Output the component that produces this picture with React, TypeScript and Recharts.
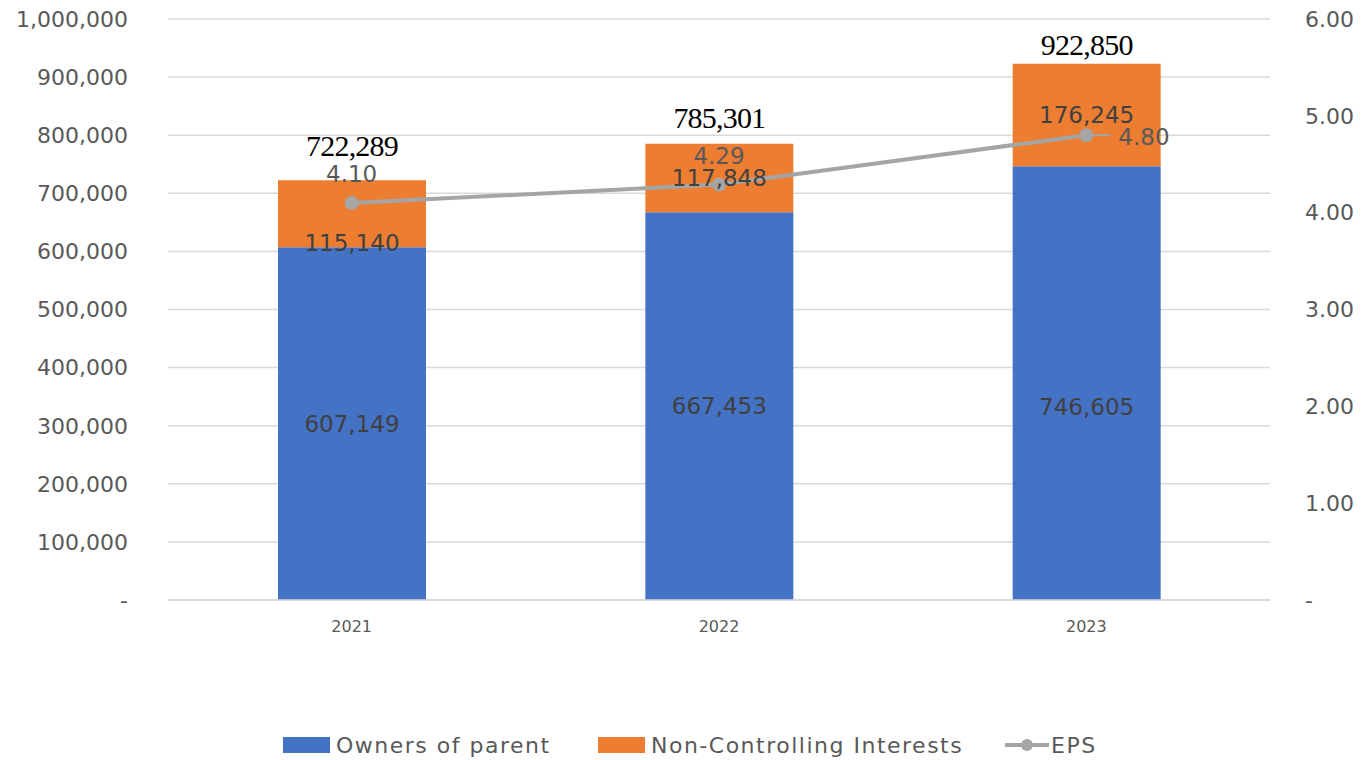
import React from "react";
import {
  Bar,
  CartesianGrid,
  ComposedChart,
  LabelList,
  Line,
  XAxis,
  YAxis,
} from "recharts";

const years = ["2021", "2022", "2023"];
const ownersOfParent = [607149, 667453, 746605];
const nonControlling = [115140, 117848, 176245];
const totals = [722289, 785301, 922850];
const eps = [4.1, 4.29, 4.8];

const leftTicks = [0, 100000, 200000, 300000, 400000, 500000, 600000, 700000, 800000, 900000, 1000000];
const rightTicks = [0, 1, 2, 3, 4, 5, 6];

const BLUE = "#4472C4";
const ORANGE = "#ED7D31";
const GRAY = "#A5A5A5";
const TEXT = "#595959";
const LABEL = "#404040";
const FONT = "'DejaVu Sans', sans-serif";

const data = years.map((year, i) => ({
  year,
  owners: ownersOfParent[i],
  nci: nonControlling[i],
  total: totals[i],
  eps: eps[i],
}));

const fmt = (v: number) => v.toLocaleString("en-US");

function OwnersLabel(props: any) {
  const { x, y, width, height, value, index } = props;
  // last label was dragged down in the original, level with the middle one
  const cy = index === 2 ? y + height / 2 + 24 : y + height / 2;
  return (
    <text
      x={x + width / 2}
      y={cy}
      textAnchor="middle"
      dominantBaseline="central"
      fill={LABEL}
      fontSize={23}
      fontFamily={FONT}
    >
      {fmt(value)}
    </text>
  );
}

function NciLabel(props: any) {
  const { x, y, width, height, value, index } = props;
  // first label sits low so it clears the EPS label
  const cy = index === 0 ? y + height - 4 : y + height / 2;
  return (
    <text
      x={x + width / 2}
      y={cy}
      textAnchor="middle"
      dominantBaseline="central"
      fill={LABEL}
      fontSize={23}
      fontFamily={FONT}
    >
      {fmt(value)}
    </text>
  );
}

function TotalLabel(props: any) {
  const { x, y, width, value, index } = props;
  const gap = index === 0 ? 35 : index === 1 ? 26 : 19;
  return (
    <text
      x={x + width / 2}
      y={y - gap}
      textAnchor="middle"
      dominantBaseline="central"
      fill="#000"
      fontSize={30}
      fontFamily="'Liberation Serif', serif"
      letterSpacing={-0.8}
    >
      {fmt(value)}
    </text>
  );
}

function EpsLabel(props: any) {
  const { x, y, value, index } = props;
  const txt = Number(value).toFixed(2);
  if (index === eps.length - 1) {
    return (
      <g>
        <line x1={x} y1={y} x2={x + 24} y2={y} stroke={GRAY} strokeWidth={2} />
        <text
          x={x + 32}
          y={y + 2}
          textAnchor="start"
          dominantBaseline="central"
          fill={TEXT}
          fontSize={23}
          fontFamily={FONT}
        >
          {txt}
        </text>
      </g>
    );
  }
  return (
    <text
      x={x}
      y={y - 29}
      textAnchor="middle"
      dominantBaseline="central"
      fill={TEXT}
      fontSize={23}
      fontFamily={FONT}
    >
      {txt}
    </text>
  );
}

function LegendItem({ kind, color, label, left }: { kind: "rect" | "line"; color: string; label: string; left: number }) {
  return (
    <div style={{ position: "absolute", left, top: 0, display: "flex", alignItems: "center", height: 28 }}>
      {kind === "rect" ? (
        <div style={{ width: 47, height: 16, background: color, marginRight: 6 }} />
      ) : (
        <svg width={44} height={16} style={{ marginRight: 2 }}>
          <line x1={0} y1={8} x2={44} y2={8} stroke={color} strokeWidth={4} />
          <circle cx={22} cy={8} r={6} fill={color} />
        </svg>
      )}
      <span style={{ color: TEXT, fontSize: 22, fontFamily: FONT, whiteSpace: "nowrap", letterSpacing: 1.5 }}>
        {label}
      </span>
    </div>
  );
}

export default function App() {
  return (
    <div style={{ position: "relative", width: 1364, height: 760, background: "#fff" }}>
      <style>{`body{margin:0}`}</style>
      <ComposedChart
        width={1364}
        height={760}
        data={data}
        margin={{ top: 19, right: 0, bottom: 120, left: 0 }}
      >
        <CartesianGrid vertical={false} stroke="#D9D9D9" strokeWidth={1.5} yAxisId="left" />
        <XAxis
          dataKey="year"
          axisLine={{ stroke: "#D9D9D9", strokeWidth: 1.5 }}
          tickLine={false}
          tick={{ fill: TEXT, fontSize: 16, fontFamily: FONT }}
          tickMargin={15}
          height={40}
        />
        <YAxis
          yAxisId="left"
          width={168}
          domain={[0, 1000000]}
          ticks={leftTicks}
          axisLine={false}
          tickLine={false}
          tickSize={0}
          tickMargin={40}
          tick={{ fill: TEXT, fontSize: 22, fontFamily: FONT }}
          tickFormatter={(v: number) => (v === 0 ? "-" : fmt(v))}
          interval={0}
        />
        <YAxis
          yAxisId="right"
          orientation="right"
          width={94}
          domain={[0, 6]}
          ticks={rightTicks}
          axisLine={false}
          tickLine={false}
          tickSize={0}
          tickMargin={35}
          tick={{ fill: TEXT, fontSize: 22, fontFamily: FONT }}
          tickFormatter={(v: number) => (v === 0 ? "-" : v.toFixed(2))}
          interval={0}
        />
        <Bar
          yAxisId="left"
          dataKey="owners"
          stackId="a"
          fill={BLUE}
          barSize={148}
          isAnimationActive={false}
        >
          <LabelList dataKey="owners" content={OwnersLabel} />
        </Bar>
        <Bar
          yAxisId="left"
          dataKey="nci"
          stackId="a"
          fill={ORANGE}
          barSize={148}
          isAnimationActive={false}
        >
          <LabelList dataKey="nci" content={NciLabel} />
          <LabelList dataKey="total" content={TotalLabel} />
        </Bar>
        <Line
          yAxisId="right"
          dataKey="eps"
          stroke={GRAY}
          strokeWidth={4}
          dot={{ r: 7, fill: GRAY, stroke: GRAY, strokeWidth: 0 }}
          isAnimationActive={false}
        >
          <LabelList dataKey="eps" content={EpsLabel} />
        </Line>
      </ComposedChart>
      <div style={{ position: "absolute", top: 731, left: 0, width: 1364, height: 28 }}>
        <LegendItem kind="rect" color={BLUE} label="Owners of parent" left={283} />
        <LegendItem kind="rect" color={ORANGE} label="Non-Controlling Interests" left={598} />
        <LegendItem kind="line" color={GRAY} label="EPS" left={1005} />
      </div>
    </div>
  );
}
